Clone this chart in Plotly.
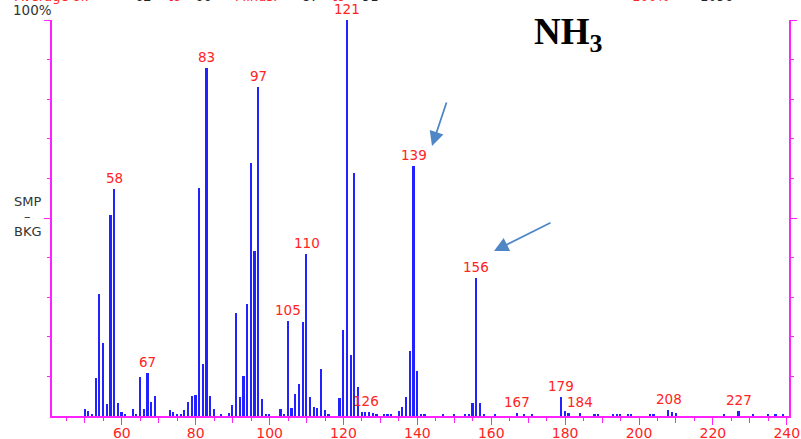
import plotly.graph_objects as go

# ---- data (m/z, % intensity) ----
masses = [50, 51, 52, 53, 54, 55, 56, 57, 58, 59, 60, 61, 63, 64, 65, 66, 67, 68, 69,
          73, 74, 75, 76, 77, 78, 79, 80, 81, 82, 83, 84, 85, 87, 89, 90, 91, 92, 93, 94,
          95, 96, 97, 98, 99, 100, 103, 104, 105, 106, 107, 108, 109, 110, 111, 112, 113,
          114, 115, 116, 119, 120, 121, 122, 123, 124, 125, 126, 127, 128, 129, 131, 132,
          133, 135, 136, 137, 138, 139, 140, 141, 142, 147, 150, 153, 154, 155, 156, 157,
          158, 161, 167, 169, 171, 179, 180, 181, 184, 188, 189, 193, 194, 195, 197, 198,
          203, 204, 208, 209, 210, 223, 227, 231, 235, 237, 239]
intensity = [1.7, 1.3, 0.3, 9.5, 30.7, 18.5, 3.0, 50.7, 57.2, 3.2, 1.1, 0.3, 1.7, 0.5, 9.8, 1.7, 10.9, 3.5, 5.0,
             1.4, 0.9, 0.3, 0.4, 1.4, 3.5, 5.0, 5.2, 57.5, 13.1, 88.0, 5.0, 1.7, 0.3, 0.8, 2.7, 25.9, 4.7, 10.1, 28.2,
             63.8, 41.7, 83.0, 4.4, 0.4, 0.6, 1.7, 0.3, 24.1, 1.9, 5.5, 8.1, 23.8, 40.9, 4.7, 2.4, 1.9,
             11.9, 1.6, 0.5, 4.5, 21.8, 100.0, 15.4, 61.3, 7.2, 1.1, 1.0, 1.0, 0.8, 0.5, 0.5, 0.5,
             0.5, 1.3, 2.4, 4.7, 16.5, 63.1, 11.4, 0.5, 0.5, 0.4, 0.6, 0.5, 0.5, 3.2, 34.8, 3.2,
             0.5, 0.5, 0.8, 0.4, 0.5, 4.9, 1.3, 0.8, 0.8, 0.4, 0.4, 0.4, 0.3, 0.3, 0.5, 0.5,
             0.3, 0.4, 1.4, 1.1, 0.8, 0.4, 1.2, 0.4, 0.4, 0.4, 0.4]
labelled_peaks = [58, 67, 83, 97, 105, 110, 121, 126, 139, 156, 167, 179, 184, 208, 227]
x_tick_values = [60, 80, 100, 120, 140, 160, 180, 200, 220, 240]
x_tick_labels = [str(v) for v in x_tick_values]
x_mid_ticks = [50, 70, 90, 110, 130, 150, 170, 190, 210, 230]

MAG = "#ff22ff"
RED = "#ff2424"
BLUE = "#2222ff"
FONT = "DejaVu Sans"

XR = [41.1, 240.6]
W, H = 801, 439
ML, MR, MT, MB = 52, 12, 20, 23
PW, PH = W - ML - MR, H - MT - MB


def px(xp):
    return (xp - ML) / PW


def py(yp):
    return 1 - (yp - MT) / PH


fig = go.Figure()
fig.add_trace(go.Bar(x=masses, y=intensity, width=0.45,
                     marker=dict(color=BLUE, line=dict(width=0)),
                     hoverinfo="x+y", showlegend=False))
# invisible trace to activate overlay axes
fig.add_trace(go.Scatter(x=[None], y=[None], xaxis="x2", yaxis="y2", showlegend=False))

ann = []
lookup = dict(zip(masses, intensity))
for m in labelled_peaks:
    ann.append(dict(x=m, y=lookup[m], xref="x", yref="y", text=str(m), showarrow=False,
                    xanchor="center", yanchor="bottom", yshift=1,
                    font=dict(family=FONT, size=13.5, color=RED)))

# text decorations
ann.append(dict(x=px(32.5), y=py(10), xref="paper", yref="paper", text="100%", showarrow=False,
                xanchor="center", yanchor="middle", font=dict(family=FONT, size=13.5, color="#333333")))
for txt, yy in [("SMP", 202), ("\u2013", 216), ("BKG", 231)]:
    ann.append(dict(x=px(27.5), y=py(yy), xref="paper", yref="paper", text=txt, showarrow=False,
                    xanchor="center", yanchor="middle", font=dict(family=FONT, size=13, color="#333333")))

top_pieces = [("Average of:", RED, 13), ("62", "#222222", 133), ("to", RED, 166), ("66", "#222222", 193),
              ("Minus:", RED, 233), ("87", "#222222", 300), ("to", RED, 330), ("91", "#222222", 360),
              ("100%", RED, 630), ("=", RED, 673), ("1096", "#222222", 698)]
for txt, col, xl in top_pieces:
    ann.append(dict(x=px(xl), y=py(-3), xref="paper", yref="paper", text=txt, showarrow=False,
                    xanchor="left", yanchor="middle", font=dict(family=FONT, size=13, color=col)))

ann.append(dict(x=px(568), y=py(35), xref="paper", yref="paper", text="<b>NH<sub>3</sub></b>",
                showarrow=False, xanchor="center", yanchor="middle",
                font=dict(family="Liberation Serif", size=37, color="black")))

# arrows (tip pixel, tail pixel)
for (tx, ty), (sx, sy) in [((432, 146), (447, 101)), ((494, 251), (552, 222))]:
    ann.append(dict(x=px(tx), y=py(ty), xref="paper", yref="paper", ax=sx - tx, ay=sy - ty,
                    text="", showarrow=True, arrowhead=2, arrowsize=1.6, arrowwidth=1.8,
                    arrowcolor="#4f86c6", standoff=0))

fig.update_layout(
    width=W, height=H, margin=dict(l=ML, r=MR, t=MT, b=MB, pad=0, autoexpand=False),
    paper_bgcolor="white", plot_bgcolor="white", bargap=0,
    annotations=ann,
    xaxis=dict(range=XR, showgrid=False, zeroline=False, showline=True, linecolor=MAG, linewidth=1.6,
               ticks="outside", tickvals=x_tick_values, ticktext=x_tick_labels, ticklen=3,
               tickcolor=MAG, tickwidth=1.4, tickfont=dict(family=FONT, size=14, color=RED),
               minor=dict(dtick=5, tick0=0, ticks="outside", ticklen=3, tickcolor=MAG, tickwidth=1.2)),
    xaxis2=dict(range=XR, overlaying="x", anchor="y", side="bottom", showgrid=False, zeroline=False,
                showticklabels=False, ticks="outside", tickvals=x_tick_values, ticklen=8,
                tickcolor=MAG, tickwidth=1.4,
                minor=dict(tickvals=x_mid_ticks, ticks="outside", ticklen=6, tickcolor=MAG, tickwidth=1.4)),
    yaxis=dict(range=[0, 100], showgrid=False, zeroline=False, showline=True, linecolor=MAG, linewidth=1.6,
               mirror="ticks", ticks="outside", tickvals=[10, 20, 30, 40, 60, 70, 80, 90], ticklen=3,
               tickcolor=MAG, tickwidth=1.2, showticklabels=False),
    yaxis2=dict(range=[0, 100], overlaying="y", anchor="x", side="left", showgrid=False, zeroline=False,
                mirror="ticks", ticks="outside", tickvals=[50, 100], ticklen=7, tickcolor=MAG,
                tickwidth=1.4, showticklabels=False),
)

fig.write_html("out.html", post_script="document.body.style.margin='0';",
               config={"displayModeBar": False})
